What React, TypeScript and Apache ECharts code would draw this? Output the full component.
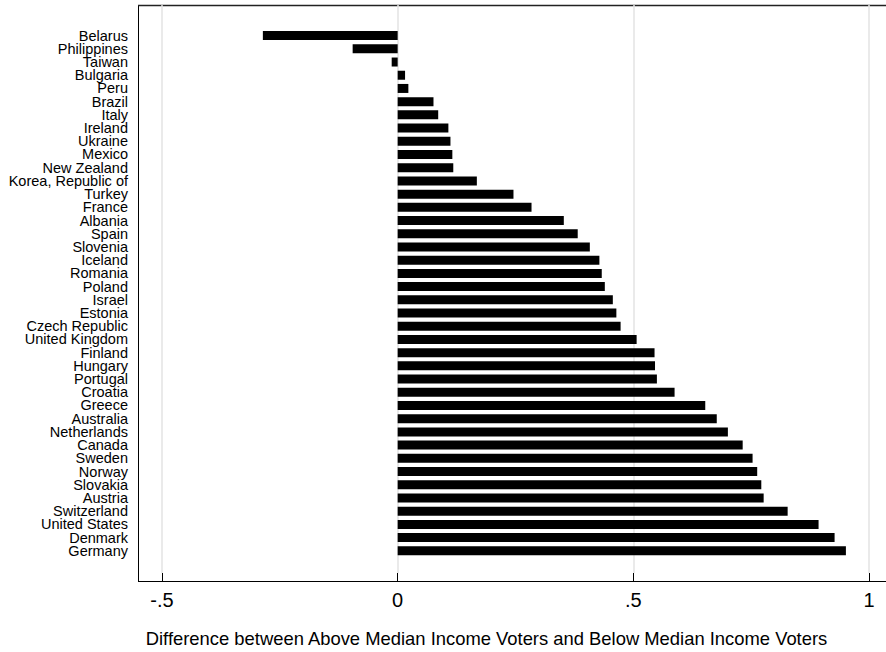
import React, { useEffect, useRef } from "react";
import * as echarts from "echarts";

const countries = [
  "Belarus", "Philippines", "Taiwan", "Bulgaria", "Peru", "Brazil", "Italy", "Ireland",
  "Ukraine", "Mexico", "New Zealand", "Korea, Republic of", "Turkey", "France", "Albania",
  "Spain", "Slovenia", "Iceland", "Romania", "Poland", "Israel", "Estonia", "Czech Republic",
  "United Kingdom", "Finland", "Hungary", "Portugal", "Croatia", "Greece", "Australia",
  "Netherlands", "Canada", "Sweden", "Norway", "Slovakia", "Austria", "Switzerland",
  "United States", "Denmark", "Germany",
];

const values = [
  -0.286, -0.0955, -0.0127, 0.0157, 0.0227, 0.076, 0.086, 0.1076,
  0.112, 0.116, 0.118, 0.168, 0.2457, 0.284, 0.3525,
  0.382, 0.4077, 0.428, 0.433, 0.4395, 0.4565, 0.464, 0.473,
  0.507, 0.545, 0.546, 0.55, 0.5875, 0.6526, 0.677,
  0.7006, 0.732, 0.753, 0.7628, 0.7715, 0.7765, 0.8274,
  0.893, 0.927, 0.951,
];

const xTicks = [-0.5, 0, 0.5, 1];
const xTickLabels: Record<string, string> = { "-0.5": "-.5", "0": "0", "0.5": ".5", "1": "1" };
const xTitle = "Difference between Above Median Income Voters and Below Median Income Voters";

const FONT = "'Liberation Sans', Arial, Helvetica, sans-serif";

export default function App() {
  const ref = useRef<HTMLDivElement>(null);
  useEffect(() => {
    document.body.style.margin = "0";
    if (!ref.current) return;
    const chart = echarts.init(ref.current, null, { renderer: "svg" });
    chart.setOption({
      animation: false,
      backgroundColor: "#ffffff",
      grid: [
        { left: 162, right: 17, top: 5, bottom: 71 },
        { left: 162, right: 17, top: 29, bottom: 94.6 },
      ],
      xAxis: [
        {
          gridIndex: 0,
          type: "value",
          min: xTicks[0],
          max: xTicks[xTicks.length - 1],
          interval: 0.5,
          axisLine: { show: false },
          axisTick: { show: true, length: 9, lineStyle: { color: "#000", width: 1 } },
          axisLabel: {
            fontFamily: FONT,
            fontSize: 20,
            color: "#000",
            margin: 17,
            formatter: (v: number) => xTickLabels[String(v)] ?? String(v),
          },
          splitLine: { show: true, lineStyle: { color: "#e3e3e3", width: 1.5 } },
          name: xTitle,
          nameLocation: "middle",
          nameGap: 56,
          nameTextStyle: { fontFamily: FONT, fontSize: 18.4, color: "#000", padding: [0, 58, 0, 0] },
        },
        {
          gridIndex: 1,
          type: "value",
          min: xTicks[0],
          max: xTicks[xTicks.length - 1],
          show: false,
        },
      ],
      yAxis: [
        { gridIndex: 0, type: "value", show: false, min: 0, max: 1 },
        {
          gridIndex: 1,
          type: "category",
          data: countries,
          inverse: true,
          axisLine: { show: false },
          axisTick: { show: false },
          axisLabel: {
            fontFamily: FONT,
            fontSize: 14.5,
            color: "#000",
            margin: 34,
            interval: 0,
          },
          splitLine: { show: false },
        },
      ],
      graphic: [
        { type: "line", shape: { x1: 138.5, y1: 5, x2: 138.5, y2: 581.5 }, style: { stroke: "#000", lineWidth: 1 } },
        { type: "line", shape: { x1: 138, y1: 5.5, x2: 886, y2: 5.5 }, style: { stroke: "#222", lineWidth: 1.5 } },
        { type: "line", shape: { x1: 138, y1: 581.5, x2: 886, y2: 581.5 }, style: { stroke: "#000", lineWidth: 1 } },
      ],
      series: [
        {
          type: "bar",
          xAxisIndex: 1,
          yAxisIndex: 1,
          data: values,
          barWidth: 9,
          itemStyle: { color: "#000" },
        },
      ],
    });
    return () => chart.dispose();
  }, []);
  return <div ref={ref} style={{ width: 886, height: 652 }} />;
}
